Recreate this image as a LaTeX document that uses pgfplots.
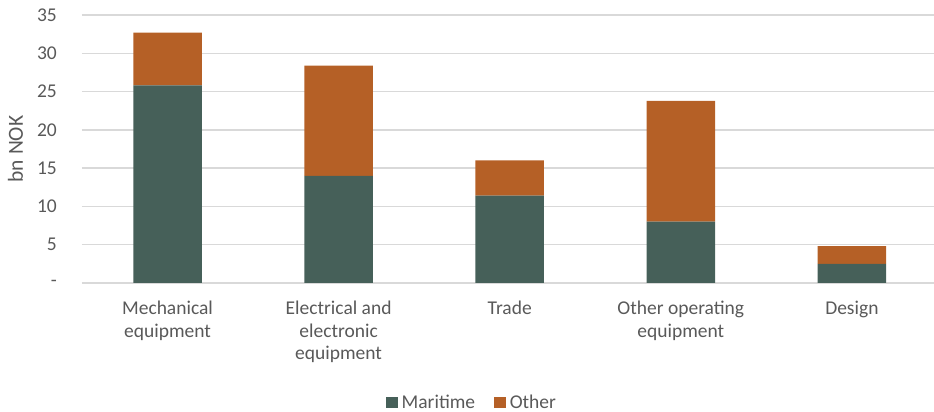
\documentclass[border=0pt]{standalone}
\usepackage{pgfplots}
\pgfplotsset{compat=1.18}
\usepackage{fontspec}
\setmainfont{Carlito}

\definecolor{maritime}{HTML}{466059}
\definecolor{other}{HTML}{B56026}
\definecolor{txt}{HTML}{595959}
\definecolor{gridgray}{HTML}{D9D9D9}

\begin{document}
\begin{tikzpicture}[x=1pt,y=1pt]
\path[use as bounding box] (0,0) rectangle (934,412);
\begin{axis}[
  at={(82pt,129pt)}, anchor=south west,
  scale only axis, width=852pt, height=268pt,
  ybar stacked, bar width=0.4,
  xmin=-0.5, xmax=4.48, ymin=0, ymax=35,
  axis line style={draw=none},
  tick style={draw=none},
  xmajorgrids=false, ymajorgrids=true,
  grid style={draw=gridgray, line width=1.3pt},
  ytick={0,5,...,35},
  yticklabels={-\hspace{8pt},5,10,15,20,25,30,35},
  xtick={0,1,2,3,4},
  xticklabels={Mechanical\\equipment, Electrical and\\electronic\\equipment, Trade, Other operating\\equipment, Design},
  major tick length=0pt,
  tick label style={font=\fontsize{19.5}{22.6}\selectfont, text=txt},
  /pgf/number format/assume math mode=true,
  yticklabel style={anchor=east, inner sep=0pt, xshift=-25pt},
  xticklabel style={align=center, anchor=north, inner sep=0pt, yshift=-18pt},
  ylabel={bn NOK},
  ylabel style={at={(axis description cs:-0.078,0.5)}, anchor=center,
    font=\fontsize{21.5}{24}\selectfont, text=txt},
  legend style={at={(axis description cs:0.4566,-0.470)}, anchor=south,
    draw=none, fill=none, legend columns=2, inner sep=0pt,
    font=\fontsize{19.5}{22.6}\selectfont, text=txt,
    nodes={inner sep=0pt, text depth=0pt},
    /tikz/every odd column/.append style={column sep=4pt},
    /tikz/every even column/.append style={column sep=19pt}},
  legend image code/.code={\fill[#1] (0pt,-6.5pt) rectangle (11.6pt,5.1pt);},
]
\addplot[fill=maritime, draw=none] coordinates {(0,25.8) (1,14.0) (2,11.4) (3,8.0) (4,2.5)};
\addplot[fill=other, draw=none] coordinates {(0,6.9) (1,14.4) (2,4.6) (3,15.8) (4,2.3)};
\legend{Maritime, Other}
\end{axis}
\end{tikzpicture}
\end{document}
